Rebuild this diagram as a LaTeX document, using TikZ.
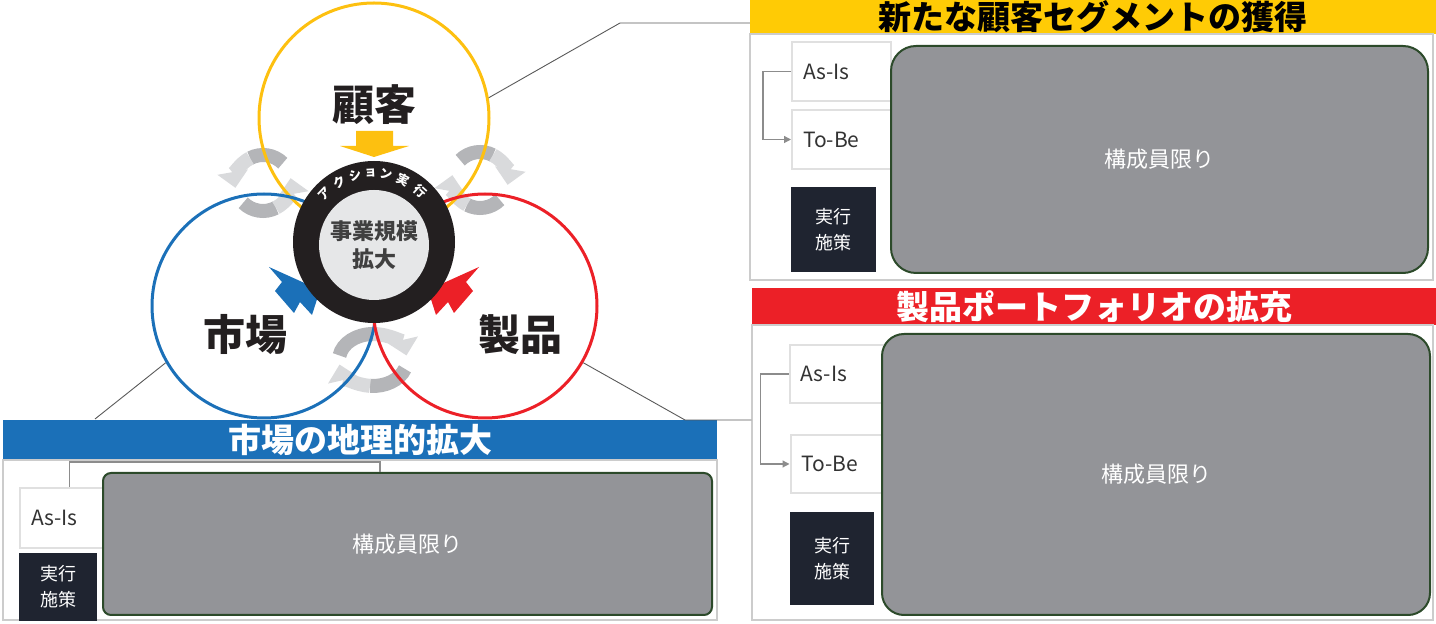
\documentclass[tikz,border=0pt]{standalone}
\usepackage{fontspec}
\setmainfont{Noto Sans CJK JP}
\usetikzlibrary{arrows.meta, calc}

\definecolor{cyellow}{HTML}{FDC010}
\definecolor{hyellow}{HTML}{FFCB05}
\definecolor{cblue}{HTML}{1B70B8}
\definecolor{cred}{HTML}{EC2027}
\definecolor{ringblack}{HTML}{231F20}
\definecolor{coregray}{HTML}{E6E7E8}
\definecolor{boxgray}{HTML}{939498}
\definecolor{boxedge}{HTML}{2C4A2A}
\definecolor{actnavy}{HTML}{1F2430}
\definecolor{cycdark}{HTML}{B4B5B8}
\definecolor{cyclight}{HTML}{D9DADC}

\begin{document}
\begin{tikzpicture}[x=1pt, y=1pt, >=Stealth,
  ring/.style={circle, line width=3pt, inner sep=0pt},
  lead/.style={draw=black!65, line width=0.9pt},
  elb/.style={draw=black!45, line width=1.2pt},
  hdr/.style={inner sep=0pt, font=\bfseries\fontsize{33}{36}\selectfont},
  panel/.style={draw=black!20, line width=1.5pt, inner sep=0pt},
  asbox/.style={draw=black!12, fill=white, line width=2pt, inner xsep=11pt,
    text width=77pt, minimum height=59pt, align=left,
    font=\fontsize{21}{24}\selectfont, text=black!80},
  actbox/.style={fill=actnavy, text=white, inner sep=0pt, align=center,
    font=\fontsize{18}{26}\selectfont},
  secret/.style={fill=boxgray, draw=boxedge, line width=2pt, text=white,
    font=\fontsize{22}{24}\selectfont},
  cyc/.style={line width=14pt},
  big/.style={font=\bfseries\fontsize{42}{44}\selectfont, text=ringblack}]

  \useasboundingbox (0,0) rectangle (1436,624);

  % cycle arrows between the circles
  \foreach \cx/\cy/\a/\b/\rx/\ry in {263/441/45/190/28/28, 263/441/225/370/28/28,
      480/444/135/-10/28/28, 480/444/-45/-190/28/28,
      373/264/170/10/34/26, 373/264/-20/-170/34/26}
  {
    \pgfmathsetmacro\m{(\a+\b)/2}
    \draw[cyc, cycdark] (\cx,\cy) ++(\a:\rx pt and \ry pt)
      arc[start angle=\a, end angle=\m, x radius=\rx, y radius=\ry];
    \draw[cyc, cyclight, -{Triangle[width=30pt, length=16pt]}] (\cx,\cy) ++(\m:\rx pt and \ry pt)
      arc[start angle=\m, end angle=\b, x radius=\rx, y radius=\ry];
  }

  % three circles
  \node[ring, draw=cyellow, minimum size=230] (cust) at (374,506) {};
  \node[ring, draw=cblue, minimum size=224] (mkt) at (264,318) {};
  \node[ring, draw=cred, minimum size=224] (prod) at (485,318) {};

  % block arrows into the core
  \fill[cyellow] (356,493) -- (393,493) -- (393,478) -- (409,478) -- (374,467)
    -- (340,478) -- (356,478) -- cycle;
  \fill[cblue] (275,333) -- (282,342) -- (269,357) -- (320,334) -- (312,309)
    -- (300,322) -- (294,311) -- cycle;
  \fill[cred] (473,333) -- (466,342) -- (479,357) -- (428,334) -- (436,309)
    -- (448,322) -- (454,311) -- cycle;

  % core
  \node[circle, fill=ringblack, minimum size=162, inner sep=0pt] (core) at (374,382) {};
  \node[circle, fill=coregray, minimum size=110, inner sep=0pt, align=center,
    font=\bfseries\fontsize{22}{28}\selectfont, text=black!75] (inner) at (374,379)
    {事業規模\\拡大};
  \foreach \ch/\ang in {ア/136, ク/120, シ/106, ョ/93, ン/80, 実/65, 行/48}
    \node[text=white, inner sep=0pt, rotate=\ang-90, font=\bfseries\fontsize{12.5}{13}\selectfont]
      at ($(core)+(\ang:69)$) {\ch};

  \node[big] (custL) at (374,519) {顧客};
  \node[big] (mktL) at (245,289) {市場};
  \node[big] (prodL) at (520,289) {製品};

  % customer panel
  \node[fill=hyellow, minimum width=686, minimum height=34, hdr] (yHead) at (1093,607)
    {新たな顧客セグメントの獲得};
  \node[panel, minimum width=683, minimum height=246] (yPanel) at (1091.5,467) {};
  \node[asbox] (yAs) at (841.5,552.5) {As-Is};
  \node[asbox] (yTo) at (841.5,484.5) {To-Be};
  \node[actbox, minimum width=85, minimum height=85] (yAct) at (833.5,394.5) {実行\\施策};
  \node[secret, rounded corners=25, minimum width=537, minimum height=227] (yBox)
    at (1159.5,464.5) {構成員限り};
  \draw[elb, -{Triangle[length=7pt, width=7pt]}] (yAs.west) -- ++(-28,0) |- (yTo.west);

  % product panel
  \node[fill=cred, minimum width=684, minimum height=37, hdr, text=white] (rHead)
    at (1094,317.5) {製品ポートフォリオの拡充};
  \node[panel, minimum width=681, minimum height=295] (rPanel) at (1092.5,151.5) {};
  \node[asbox, minimum height=58] (rAs) at (839,250) {As-Is};
  \node[asbox, minimum height=58] (rTo) at (840,160) {To-Be};
  \node[actbox, minimum width=84, minimum height=93] (rAct) at (832,65.5) {実行\\施策};
  \node[secret, rounded corners=22, minimum width=548, minimum height=281] (rBox)
    at (1156,149.5) {構成員限り};
  \draw[elb, -{Triangle[length=7pt, width=7pt]}] (rAs.west) -- ++(-28,0) |- (rTo.west);

  % market panel
  \node[fill=cblue, minimum width=714, minimum height=40, hdr, text=white] (bHead)
    at (360,184) {市場の地理的拡大};
  \node[panel, minimum width=714, minimum height=160] (bPanel) at (360,84) {};
  \node[asbox, minimum height=60] (bAs) at (69.5,106) {As-Is};
  \node[actbox, minimum width=78, minimum height=68] (bAct) at (58,37) {実行\\施策};
  \node[secret, rounded corners=8, minimum width=609, minimum height=142] (bBox)
    at (407.5,80) {構成員限り};
  \coordinate (bTop) at (380,162);
  \draw[elb] (bAs.north) |- (bTop) -- (bTop |- bBox.north);

  % leader lines from the circles
  \coordinate (yBend) at (620,601);
  \coordinate (bEnd) at (95,205);
  \coordinate (rBend) at (685,204);
  \draw[lead] (cust.10) -- (yBend) -- (yBend -| yHead.west);
  \draw[lead] (mkt.210) -- (bEnd);
  \draw[lead] (prod.-30) -- (rBend) -- (rBend -| rPanel.west);
\end{tikzpicture}
\end{document}
